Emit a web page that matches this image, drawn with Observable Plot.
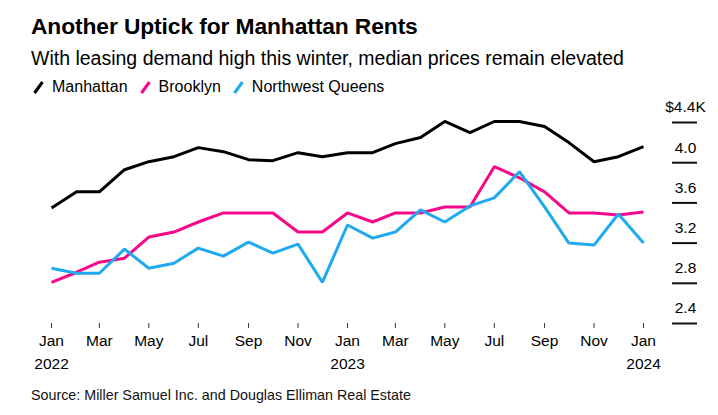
<!DOCTYPE html>
<html>
<head>
<meta charset="utf-8">
<script src="https://cdn.jsdelivr.net/npm/d3@7"></script>
<script src="https://cdn.jsdelivr.net/npm/@observablehq/plot@0.6"></script>
<style>
  html, body { margin: 0; padding: 0; background: #fff; }
  body { width: 718px; height: 415px; position: relative; overflow: hidden; font-family: "Liberation Sans", Arial, sans-serif; color: #000; }
  .abs { position: absolute; white-space: nowrap; }
  #title { left: 31px; top: 15px; font-size: 22.8px; font-weight: bold; line-height: 23px; letter-spacing: -0.1px; }
  #subtitle { left: 31px; top: 48px; font-size: 19.5px; line-height: 20px; }
  #legend { left: 33px; top: 78px; font-size: 16px; line-height: 17px; display: flex; gap: 12px; }
  #legend .item { display: flex; align-items: center; }
  #legend svg { margin-right: 8px; }
  #chart { left: 0; top: 95px; }
  #source { left: 31px; top: 388px; font-size: 14.3px; line-height: 15px; color: #111; }
</style>
</head>
<body>
<div id="title" class="abs">Another Uptick for Manhattan Rents</div>
<div id="subtitle" class="abs">With leasing demand high this winter, median prices remain elevated</div>
<div id="legend" class="abs"></div>
<div id="chart" class="abs"></div>
<div id="source" class="abs">Source: Miller Samuel Inc. and Douglas Elliman Real Estate</div>
<script>
// Months (Jan 2022 – Jan 2024)
const months = ["2022-01","2022-02","2022-03","2022-04","2022-05","2022-06","2022-07","2022-08","2022-09","2022-10","2022-11","2022-12",
                "2023-01","2023-02","2023-03","2023-04","2023-05","2023-06","2023-07","2023-08","2023-09","2023-10","2023-11","2023-12",
                "2024-01"];
// Median rents, $ thousands
const manhattan = [3.55,3.71,3.71,3.93,4.01,4.06,4.15,4.11,4.03,4.02,4.10,4.06,4.10,4.10,4.19,4.25,4.41,4.30,4.41,4.41,4.36,4.20,4.01,4.06,4.16];
const brooklyn  = [2.81,2.91,3.01,3.05,3.26,3.31,3.41,3.50,3.50,3.50,3.31,3.31,3.50,3.41,3.50,3.50,3.56,3.56,3.96,3.85,3.71,3.50,3.50,3.48,3.51];
const queens    = [2.95,2.90,2.90,3.14,2.95,3.00,3.15,3.07,3.21,3.10,3.19,2.81,3.38,3.25,3.31,3.53,3.41,3.57,3.65,3.91,3.56,3.20,3.18,3.49,3.20];
const seriesNames = ["Manhattan","Brooklyn","Northwest Queens"];
const seriesColors = ["#000000","#f5088a","#1fa9ef"];
const yTicks = [2.4, 2.8, 3.2, 3.6, 4.0, 4.4];
const xTickMonths = ["2022-01","2022-03","2022-05","2022-07","2022-09","2022-11","2023-01","2023-03","2023-05","2023-07","2023-09","2023-11","2024-01"];

const parse = d3.utcParse("%Y-%m");
const dates = months.map(parse);
const seriesValues = [manhattan, brooklyn, queens];
const data = [];
seriesNames.forEach((name, i) => {
  seriesValues[i].forEach((v, j) => data.push({series: name, date: dates[j], value: v}));
});

// Legend
const legend = document.getElementById("legend");
seriesNames.forEach((name, i) => {
  const item = document.createElement("div");
  item.className = "item";
  item.innerHTML = `<svg width="11" height="14"><line x1="1.5" y1="13" x2="9.5" y2="2" stroke="${seriesColors[i]}" stroke-width="3"/></svg><span>${name}</span>`;
  legend.appendChild(item);
});

const fmtMonth = d3.utcFormat("%b");
const chart = Plot.plot({
  width: 718,
  height: 283,
  marginLeft: 51,
  marginRight: 21,
  marginTop: 27,
  marginBottom: 55,
  style: {fontFamily: "'Liberation Sans', Arial, sans-serif", background: "transparent", color: "#000"},
  x: {type: "utc", domain: [dates[0], dates[dates.length - 1]], range: [51, 643]},
  y: {domain: [2.4, 4.4], range: [228, 27], axis: null},
  color: {domain: seriesNames, range: seriesColors},
  marks: [
    Plot.tickY(yTicks, {y: d => d, insetLeft: 621, stroke: "#111", strokeWidth: 2, shapeRendering: "geometricPrecision"}),
    Plot.text(yTicks, {
      y: d => d, frameAnchor: "right", dx: -12, dy: -15,
      text: d => d === 4.4 ? "$4.4K" : d.toFixed(1),
      textAnchor: "middle", fontSize: 15.5, fill: "#000"
    }),
    Plot.axisX({
      ticks: xTickMonths.map(parse), tickSize: 5, tickPadding: 2,
      stroke: "#333", strokeWidth: 1,
      tickFormat: d => d.getUTCMonth() === 0 ? fmtMonth(d) + "\n" + d.getUTCFullYear() : fmtMonth(d),
      fontSize: 15.5, lineHeight: 1.45, fill: "#000", label: null
    }),
    Plot.line(data, {x: "date", y: "value", z: "series", stroke: "series", strokeWidth: 3, strokeLinejoin: "miter", strokeLinecap: "butt"})
  ]
});
document.getElementById("chart").appendChild(chart);
</script>
</body>
</html>
